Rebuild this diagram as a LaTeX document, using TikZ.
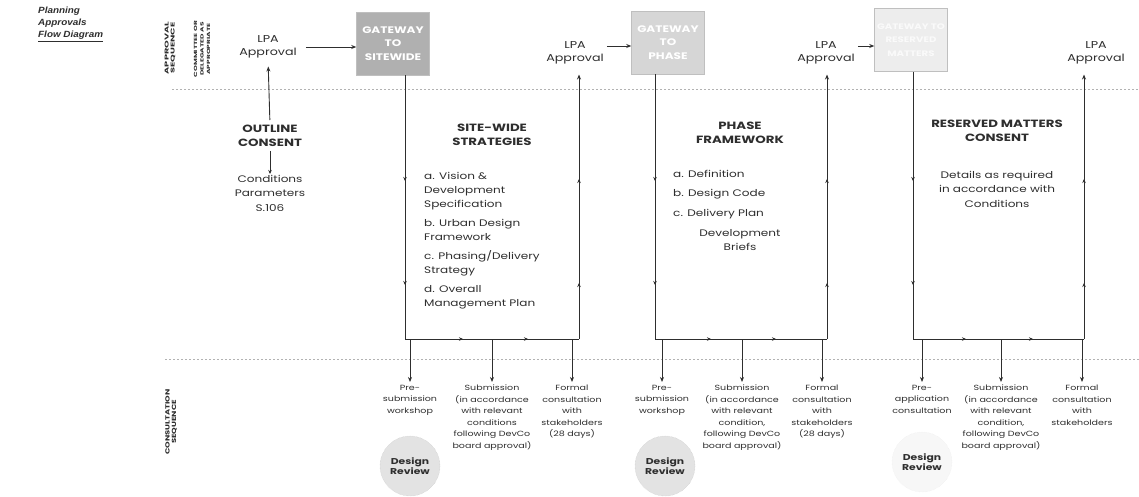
\documentclass[tikz,border=0pt]{standalone}
\usepackage{fontspec}
\setmainfont{Poppins}[FakeStretch=1.27]
\newfontfamily\titlefont{Liberation Sans}[FakeStretch=1.1]
\usetikzlibrary{arrows.meta}
\definecolor{ink}{HTML}{2E2E2E}
\tikzset{
  lpa/.style={font=\fontsize{10}{13}\selectfont, align=center, text=ink, inner sep=0pt},
  gate/.style={minimum width=73pt, minimum height=63pt, inner sep=0pt, align=center,
    font=\fontsize{9.5}{13.5}\selectfont\bfseries, text=white, draw=gray!50, line width=0.5pt},
  head/.style={font=\fontsize{10.5}{14}\selectfont\bfseries, align=center, text=ink, anchor=north, inner sep=0pt},
  body/.style={font=\fontsize{9.5}{14}\selectfont, text=ink, inner sep=0pt, align=left, anchor=north west},
  small/.style={font=\fontsize{7.5}{11.5}\selectfont, align=center, text=ink, anchor=north, inner sep=0pt},
  vlab/.style={rotate=90, font=\fontsize{5.5}{6}\selectfont\bfseries, align=center, text=ink, inner sep=0pt},
  flow/.style={draw=ink, line width=0.9pt},
  arr/.style={flow, -{Stealth[length=5pt,width=4pt]}},
  tick/.style={draw=ink, line width=0.8pt, -{Stealth[length=4pt,width=3.5pt]}},
  sepline/.style={draw=gray!60, dash pattern=on 2pt off 2pt, line width=0.6pt},
  review/.style={circle, minimum size=60pt, inner sep=0pt, align=center,
    font=\fontsize{8.5}{10.5}\selectfont\bfseries, text=ink, fill=gray!22, draw=gray!45, densely dotted}
}
\begin{document}
\begin{tikzpicture}[x=1pt,y=-1pt]
\useasboundingbox (0,0) rectangle (1139,496);

% title
\node[anchor=north west, inner sep=0pt, align=left, text=ink,
      font=\titlefont\fontsize{9}{12}\selectfont\bfseries\itshape] (title) at (38,7)
  {Planning\\Approvals\\\underline{Flow Diagram}};

% side labels
\node[vlab] (appseq) at (170,48) {\scalebox{1.4}[1]{APPROVAL}\\\scalebox{1.4}[1]{SEQUENCE}};
\node[vlab, font=\fontsize{4.5}{6.5}\selectfont\bfseries] (committee) at (202,49)
  {\scalebox{1.3}[1]{COMMITTEE OR}\\\scalebox{1.3}[1]{DELEGATED AS}\\\scalebox{1.3}[1]{APPROPRIATE}};
\node[vlab, font=\fontsize{6}{6.5}\selectfont\bfseries] (conseq) at (171,422)
  {\scalebox{1.1}[1]{CONSULTATION}\\\scalebox{1.1}[1]{SEQUENCE}};

% separator lines
\coordinate (sepA) at (172,89);
\coordinate (sepB) at (1139,89);
\coordinate (sepC) at (165,359);
\coordinate (sepD) at (1139,359);
\draw[sepline] (sepA) -- (sepB);
\draw[sepline] (sepC) -- (sepD);

% approval nodes
\node[lpa] (lpa1) at (268,47) {LPA\\Approval};
\node[lpa] (lpa2) at (575,53) {LPA\\Approval};
\node[lpa] (lpa3) at (826,53) {LPA\\Approval};
\node[lpa] (lpa4) at (1096,53) {LPA\\Approval};

\node[gate, fill=gray!62] (gw1) at (393,43.5) {GATEWAY\\TO\\SITEWIDE};
\node[gate, fill=gray!32] (gw2) at (668,42.5) {GATEWAY\\TO\\PHASE};
\node[gate, fill=gray!14, text=gray!4, font=\fontsize{8}{13.5}\selectfont\bfseries] (gw3) at (911,40) {GATEWAY TO\\RESERVED\\MATTERS};

\draw[arr] (lpa1.east) ++(9,0) coordinate (a1) -- (a1 -| gw1.west);
\draw[arr] (lpa2.east) ++(3,-7) coordinate (a2) -- (a2 -| gw2.west);
\draw[arr] (lpa3.east) ++(3,-7) coordinate (a3) -- (a3 -| gw3.west);

% outline consent
\node[head] (outline) at (270,125) {OUTLINE\\CONSENT};
\node[lpa, anchor=north, font=\fontsize{9.5}{14.5}\selectfont] (cond) at (270,175) {Conditions\\Parameters\\S.106};
\draw[tick, shorten <=4pt, shorten >=1pt] (outline.south) -- (cond.north);
\draw[arr, shorten <=5pt, shorten >=8pt] (outline.north) -- (lpa1.south);

% ---------- site-wide ----------
\coordinate (sBL) at (405,339);
\coordinate (sBR) at (579,339);
\draw[flow] (gw1.south -| sBL) -- (sBL) -- (sBR);
\draw[arr, shorten >=10pt] (sBR) -- (sBR |- lpa2.south);
\node[head] (sw) at (492,124) {SITE-WIDE\\STRATEGIES};
\node[body] (swlist) at (424,172) {a. Vision \&\\Development\\Specification\\[5pt]
  b. Urban Design\\Framework\\[5pt]c. Phasing/Delivery\\Strategy\\[5pt]d. Overall\\Management Plan};
\foreach \yy in {180,284} {
  \draw[tick] (405,\yy-6) -- (405,\yy+1);
  \draw[tick] (579,\yy+6) -- (579,\yy-1);
}
\draw[tick] (455,339) -- (463,339);
\draw[tick] (520,339) -- (528,339);

% ---------- phase ----------
\coordinate (pBL) at (655,339);
\coordinate (pBR) at (827,339);
\draw[flow] (gw2.south -| pBL) -- (pBL) -- (pBR);
\draw[arr, shorten >=10pt] (pBR) -- (pBR |- lpa3.south);
\node[head] (ph) at (740,122) {PHASE\\FRAMEWORK};
\node[body, font=\fontsize{9.5}{19.5}\selectfont] (phlist) at (673,170) {a. Definition\\b. Design Code\\c. Delivery Plan};
\node[lpa, anchor=north, font=\fontsize{9.5}{14.5}\selectfont] (briefs) at (740,229) {Development\\Briefs};
\foreach \yy in {180,284} {
  \draw[tick] (655,\yy-6) -- (655,\yy+1);
  \draw[tick] (827,\yy+6) -- (827,\yy-1);
}
\draw[tick] (703,339) -- (711,339);
\draw[tick] (768,339) -- (776,339);

% ---------- reserved matters ----------
\coordinate (rBL) at (913,339);
\coordinate (rBR) at (1084,339);
\draw[flow] (gw3.south -| rBL) -- (rBL) -- (rBR);
\draw[arr, shorten >=10pt] (rBR) -- (rBR |- lpa4.south);
\node[head] (rm) at (997,120) {RESERVED MATTERS\\CONSENT};
\node[lpa, anchor=north, font=\fontsize{9.5}{14.5}\selectfont] (details) at (997,171) {Details as required\\in accordance with\\Conditions};
\foreach \yy in {180,284} {
  \draw[tick] (913,\yy-6) -- (913,\yy+1);
  \draw[tick] (1084,\yy+6) -- (1084,\yy-1);
}
\draw[tick] (958,339) -- (966,339);
\draw[tick] (1025,339) -- (1033,339);

% ---------- consultation texts ----------
\node[small] (pre1) at (410,385) {Pre-\\submission\\workshop};
\node[small] (sub1) at (492,385) {Submission\\(in accordance\\with relevant\\conditions\\following DevCo\\board approval)};
\node[small] (for1) at (572,385) {Formal\\consultation\\with\\stakeholders\\(28 days)};
\node[small] (pre2) at (662,385) {Pre-\\submission\\workshop};
\node[small] (sub2) at (742,385) {Submission\\(in accordance\\with relevant\\condition,\\following DevCo\\board approval)};
\node[small] (for2) at (822,385) {Formal\\consultation\\with\\stakeholders\\(28 days)};
\node[small] (pre3) at (922,385) {Pre-\\application\\consultation};
\node[small] (sub3) at (1001,385) {Submission\\(in accordance\\with relevant\\condition,\\following DevCo\\board approval)};
\node[small] (for3) at (1082,385) {Formal\\consultation\\with\\stakeholders};

\foreach \n in {pre1,sub1,for1}
  \draw[arr, shorten >=3pt] (\n.north |- sBL) -- (\n.north);
\foreach \n in {pre2,sub2,for2}
  \draw[arr, shorten >=3pt] (\n.north |- pBL) -- (\n.north);
\foreach \n in {pre3,sub3,for3}
  \draw[arr, shorten >=3pt] (\n.north |- rBL) -- (\n.north);

% design review
\node[review] (dr1) at (410,466) {Design\\Review};
\node[review] (dr2) at (665,466) {Design\\Review};
\node[review, fill=gray!6, draw=gray!15] (dr3) at (922,462) {Design\\Review};
\end{tikzpicture}
\end{document}
